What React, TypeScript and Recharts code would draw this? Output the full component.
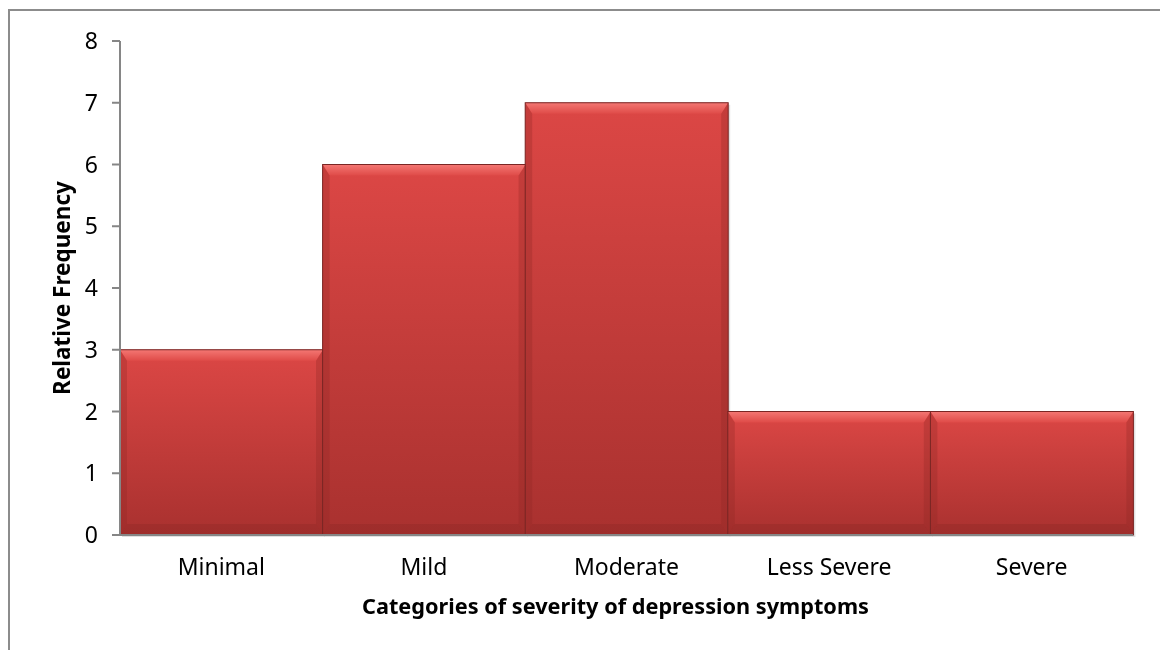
import React from 'react';
import { BarChart, Bar, XAxis, YAxis } from 'recharts';

const categories = ['Minimal', 'Mild', 'Moderate', 'Less Severe', 'Severe'];
const frequencies = [3, 6, 7, 2, 2];
const yTicks = [0, 1, 2, 3, 4, 5, 6, 7, 8];
const xTitle = 'Categories of severity of depression symptoms';
const yTitle = 'Relative Frequency';

const data = categories.map((c, i) => ({ category: c, value: frequencies[i] }));

const FONT = '"Noto Sans", "Open Sans", sans-serif';

const BevelBar = (props: any) => {
  const { x, y, width, height } = props;
  if (!height || height <= 0) return null;
  const bt = Math.min(11, height / 3);
  const bs = Math.min(7, width / 4);
  return (
    <g>
      <rect x={x + 2} y={y + 2} width={width} height={height} fill="#000" opacity={0.12} />
      <rect x={x} y={y} width={width} height={height} fill="url(#barGrad)" />
      <polygon
        points={`${x},${y} ${x + width},${y} ${x + width - bs},${y + bt} ${x + bs},${y + bt}`}
        fill="url(#topBevel)"
      />
      <polygon
        points={`${x},${y} ${x + bs},${y + bt} ${x + bs},${y + height - bt} ${x},${y + height}`}
        fill="#8e2826"
        opacity={0.3}
      />
      <polygon
        points={`${x + width},${y} ${x + width - bs},${y + bt} ${x + width - bs},${y + height - bt} ${x + width},${y + height}`}
        fill="#8e2826"
        opacity={0.3}
      />
      <polygon
        points={`${x},${y + height} ${x + bs},${y + height - bt} ${x + width - bs},${y + height - bt} ${x + width},${y + height}`}
        fill="#7e2321"
        opacity={0.25}
      />
      <rect x={x} y={y} width={width} height={height} fill="none" stroke="#7a2624" strokeWidth={1} />
    </g>
  );
};

const YTitle = (props: any) => {
  const vb = props.viewBox || {};
  const cx = vb.x + 1;
  const cy = vb.y + vb.height / 2;
  return (
    <text
      x={cx}
      y={cy}
      transform={`rotate(-90 ${cx} ${cy})`}
      textAnchor="middle"
      dominantBaseline="central"
      fontFamily={FONT}
      fontWeight="bold"
      fontSize={22.5}
      fill="#000"
    >
      {yTitle}
    </text>
  );
};

const XTitle = (props: any) => {
  const vb = props.viewBox || {};
  const cx = vb.x + vb.width / 2 - 11;
  const cy = vb.y + 79;
  return (
    <text
      x={cx}
      y={cy}
      textAnchor="middle"
      fontFamily={FONT}
      fontWeight="bold"
      fontSize={21.7}
      fill="#000"
    >
      {xTitle}
    </text>
  );
};

export default function App() {
  return (
    <div style={{ position: 'relative', width: 1152, height: 630 }}>
      <div
        style={{
          position: 'fixed',
          top: 9,
          left: 8,
          width: 2000,
          height: 2000,
          border: '2px solid #8c8c8c',
          boxSizing: 'border-box',
          pointerEvents: 'none',
        }}
      />
      <div style={{ position: 'absolute', top: 0, left: 0 }}>
        <BarChart
          width={1152}
          height={630}
          data={data}
          margin={{ top: 33, right: 27, bottom: 13, left: 52 }}
          barCategoryGap={0}
          barGap={0}
        >
          <defs>
            <linearGradient id="barGrad" x1="0" y1="0" x2="0" y2="1">
              <stop offset="0%" stopColor="#dc4745" />
              <stop offset="100%" stopColor="#a9312f" />
            </linearGradient>
            <linearGradient id="topBevel" x1="0" y1="0" x2="0" y2="1">
              <stop offset="0%" stopColor="#f47773" />
              <stop offset="100%" stopColor="#df4b48" />
            </linearGradient>
          </defs>
          <XAxis
            dataKey="category"
            height={90}
            tickLine={false}
            tickSize={0}
            tickMargin={24}
            axisLine={{ stroke: '#868686', strokeWidth: 2 }}
            tick={{ fontFamily: FONT, fontSize: 23, fill: '#000' }}
            interval={0}
            label={<XTitle />}
          />
          <YAxis
            width={60}
            domain={[0, 8]}
            ticks={yTicks}
            interval={0}
            tickSize={8}
            tickMargin={14}
            axisLine={{ stroke: '#868686', strokeWidth: 2 }}
            tickLine={{ stroke: '#868686', strokeWidth: 2 }}
            tick={{ fontFamily: FONT, fontSize: 23, fill: '#000' }}
            label={<YTitle />}
          />
          <Bar dataKey="value" shape={<BevelBar />} isAnimationActive={false} />
        </BarChart>
      </div>
    </div>
  );
}
